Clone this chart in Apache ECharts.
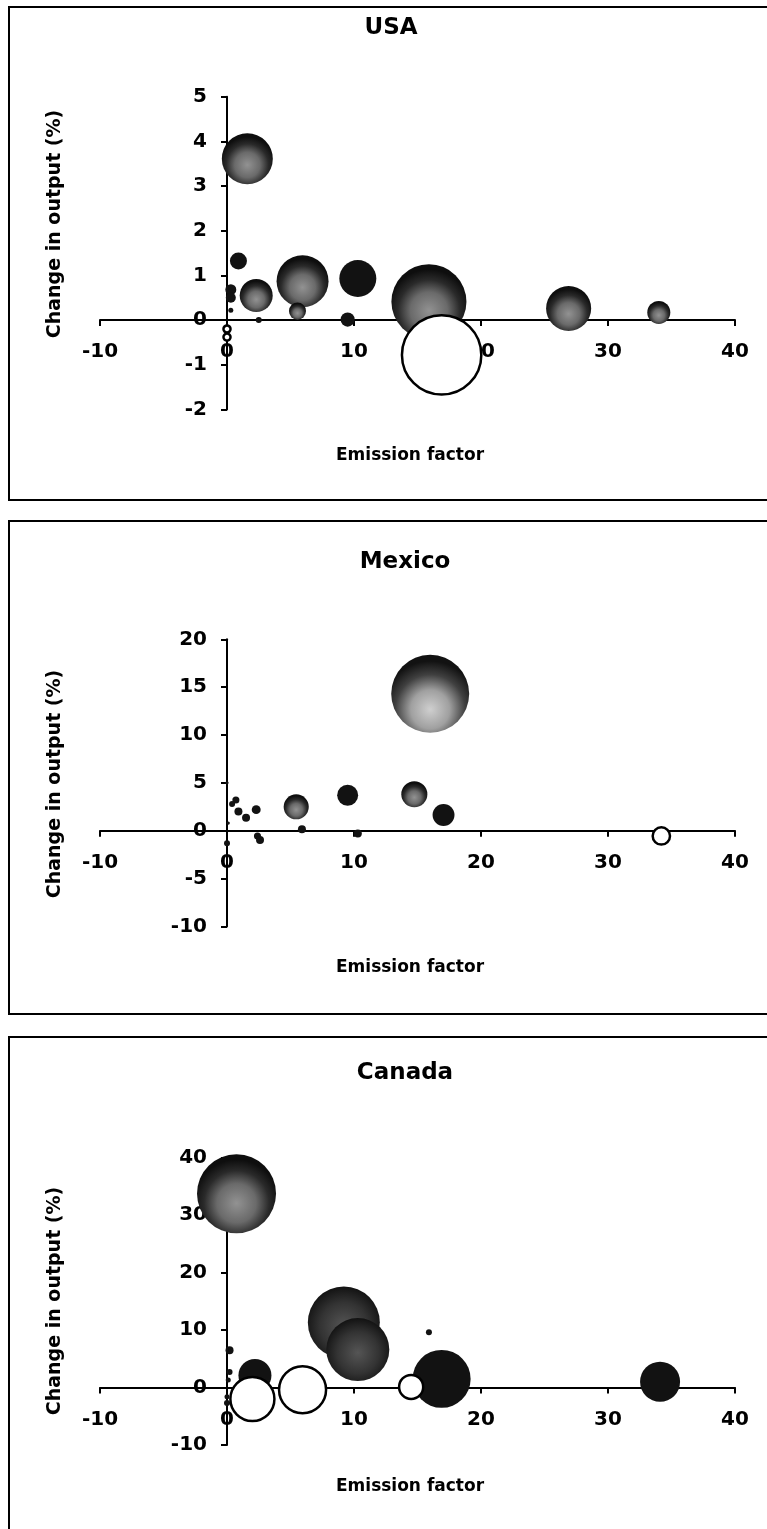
<!DOCTYPE html>
<html><head><meta charset="utf-8">
<script src="https://cdn.jsdelivr.net/npm/echarts@6/dist/echarts.min.js"></script>
<style>html,body{margin:0;padding:0;background:#fff}#c{width:767px;height:1529px}</style>
</head><body><div id="c"></div>
<script>
// ---- data ----
const panelTitles = ['USA', 'Mexico', 'Canada'];
const xAxisTitle = 'Emission factor';
const yAxisTitle = 'Change in output (%)';
const xRange = [-10, 40, 10];

const usaYRange = [-2, 5, 1];
const usaX      = [1.6, 0.9, 0.3, 0.3, 0.3, 2.3, 2.5, 5.95, 5.55, 10.3, 9.5, 15.9, 26.9, 34.0, 0.0, 0.0, 16.9];
const usaY      = [3.61, 1.32, 0.68, 0.50, 0.22, 0.55, 0.0, 0.87, 0.20, 0.93, 0.01, 0.41, 0.26, 0.17, -0.20, -0.38, -0.78];
const usaWeight = [26.0, 2.9, 1.2, 1.0, 0.25, 10.9, 0.36, 27.0, 2.9, 13.7, 2.0, 56.3, 20.3, 5.3, 0.5, 0.5, 63.0];
const usaKind   = ['shade','dark','dark','dark','dark','shade','dark','shade','shade','dark','dark','shade','shade','shade','white','white','white'];

const mexicoYRange = [-10, 20, 5];
const mexicoX      = [16.0, 5.45, 9.5, 14.75, 17.05, 5.9, 10.3, 0.7, 0.4, 0.9, 1.5, 2.3, 2.4, 2.6, 0.0, 0.0, 0.1, 34.2];
const mexicoY      = [14.3, 2.5, 3.7, 3.8, 1.64, 0.15, -0.28, 3.2, 2.8, 2.0, 1.36, 2.2, -0.55, -0.97, -1.3, 5.0, 0.8, -0.55];
const mexicoWeight = [60.8, 6.3, 4.4, 6.8, 4.8, 0.64, 0.64, 0.5, 0.36, 0.64, 0.64, 0.8, 0.5, 0.64, 0.36, 0.1, 0.1, 3.0];
const mexicoKind   = ['light','shade','dark','shade','dark','dark','dark','dark','dark','dark','dark','dark','dark','dark','dark','dark','dark','white'];

const canadaYRange = [-10, 40, 10];
const canadaX      = [0.75, 9.2, 10.3, 15.9, 16.9, 34.1, 2.2, 0.2, 0.2, 0.1, 0.0, 0.0, 2.0, 5.95, 14.5];
const canadaY      = [33.7, 11.3, 6.6, 9.6, 1.5, 1.0, 2.1, 6.5, 2.7, 1.3, -1.6, -2.7, -2.0, -0.4, 0.1];
const canadaWeight = [62.4, 51.8, 39.7, 0.36, 33.6, 16.0, 10.9, 0.64, 0.36, 0.25, 0.25, 0.36, 19.4, 22.1, 5.8];
const canadaKind   = ['shade','deep','deep','dark','dark','dark','dark','dark','dark','dark','dark','dark','white','white','white'];

// ---- styles ----
const FONT = '"DejaVu Sans", "Liberation Sans", sans-serif';
function radial(x, y, r, stops) {
  return { type: 'radial', x: x, y: y, r: r, colorStops: stops.map(s => ({ offset: s[0], color: s[1] })) };
}
const kindStyle = {
  dark:  { color: '#121212' },
  shade: { color: radial(0.5, 0.62, 0.55, [[0, '#929292'], [0.45, '#6a6a6a'], [0.75, '#2a2a2a'], [1, '#0e0e0e']]) },
  light: { color: radial(0.5, 0.7, 0.62, [[0, '#cfcfcf'], [0.4, '#a0a0a0'], [0.72, '#404040'], [1, '#121212']]) },
  deep:  { color: radial(0.5, 0.55, 0.55, [[0, '#555555'], [0.6, '#333333'], [1, '#121212']]) },
  white: { color: '#ffffff', borderColor: '#000', borderWidth: 2.5 }
};

const GRID_LEFT = 100, GRID_RIGHT = 32, CHART_W = 767;
const panels = [
  { x: usaX, y: usaY, w: usaWeight, k: usaKind, yr: usaYRange, top: 96.7, height: 312.7, box: [9, 7, 493], title: [391, 28], xt: [410, 456], yt: [55, 224] },
  { x: mexicoX, y: mexicoY, w: mexicoWeight, k: mexicoKind, yr: mexicoYRange, top: 639.3, height: 287.1, box: [9, 521, 493], title: [405, 562], xt: [410, 968], yt: [55, 784] },
  { x: canadaX, y: canadaY, w: canadaWeight, k: canadaKind, yr: canadaYRange, top: 1157.5, height: 287.5, box: [9, 1037, 600], title: [405, 1073], xt: [410, 1487], yt: [55, 1301] }
];

const grid = [], xAxis = [], yAxis = [], series = [], graphic = [];
const labelBase = { color: '#000', fontFamily: FONT, fontWeight: 'bold', fontSize: 20 };
const lineBase = { onZero: false, lineStyle: { color: '#000', width: 2 } };
const tickBase = { length: 6, lineStyle: { color: '#000', width: 2 } };
const gridWidth = CHART_W - GRID_LEFT - GRID_RIGHT;

panels.forEach((p, i) => {
  grid.push({ left: GRID_LEFT, right: GRID_RIGHT, top: p.top, height: p.height });
  // axes cross at zero: shift each axis into the plot through the axis scale fraction
  const xZeroFrac = (0 - xRange[0]) / (xRange[1] - xRange[0]);
  const yZeroFrac = (0 - p.yr[0]) / (p.yr[1] - p.yr[0]);
  xAxis.push({
    type: 'value', gridIndex: i, position: 'bottom', min: xRange[0], max: xRange[1], interval: xRange[2],
    offset: -yZeroFrac * p.height,
    axisLine: lineBase, axisTick: tickBase, splitLine: { show: false },
    axisLabel: Object.assign({}, labelBase, { margin: 22 })
  });
  yAxis.push({
    type: 'value', gridIndex: i, position: 'left', min: p.yr[0], max: p.yr[1], interval: p.yr[2],
    offset: -xZeroFrac * gridWidth,
    axisLine: lineBase, axisTick: tickBase, splitLine: { show: false },
    axisLabel: Object.assign({}, labelBase, { margin: 20 })
  });
  series.push({
    type: 'scatter', xAxisIndex: i, yAxisIndex: i, clip: true,
    symbol: 'circle',
    symbolSize: v => Math.sqrt(v[2]) * 10,
    data: p.x.map((xv, j) => ({ value: [xv, p.y[j], p.w[j]], itemStyle: Object.assign({ opacity: 1 }, kindStyle[p.k[j]]) })),
    emphasis: { disabled: true },
    animation: false
  });
  graphic.push({ type: 'rect', shape: { x: p.box[0], y: p.box[1], width: 800, height: p.box[2] },
    style: { fill: 'none', stroke: '#000', lineWidth: 2 }, silent: true, z: 0 });
  graphic.push({ type: 'text', x: p.title[0], y: p.title[1],
    style: { text: panelTitles[i], font: 'bold 23px ' + FONT, fill: '#000', textAlign: 'center', textVerticalAlign: 'middle' } });
  graphic.push({ type: 'text', x: p.xt[0], y: p.xt[1],
    style: { text: xAxisTitle, font: 'bold 17px ' + FONT, fill: '#000', textAlign: 'center', textVerticalAlign: 'middle' } });
  graphic.push({ type: 'text', x: p.yt[0], y: p.yt[1], rotation: Math.PI / 2,
    style: { text: yAxisTitle, font: 'bold 19px ' + FONT, fill: '#000', textAlign: 'center', textVerticalAlign: 'middle' } });
});

const chart = echarts.init(document.getElementById('c'), null, { renderer: 'canvas', width: 767, height: 1529 });
chart.setOption({ backgroundColor: '#fff', animation: false, grid, xAxis, yAxis, series, graphic });
</script></body></html>
